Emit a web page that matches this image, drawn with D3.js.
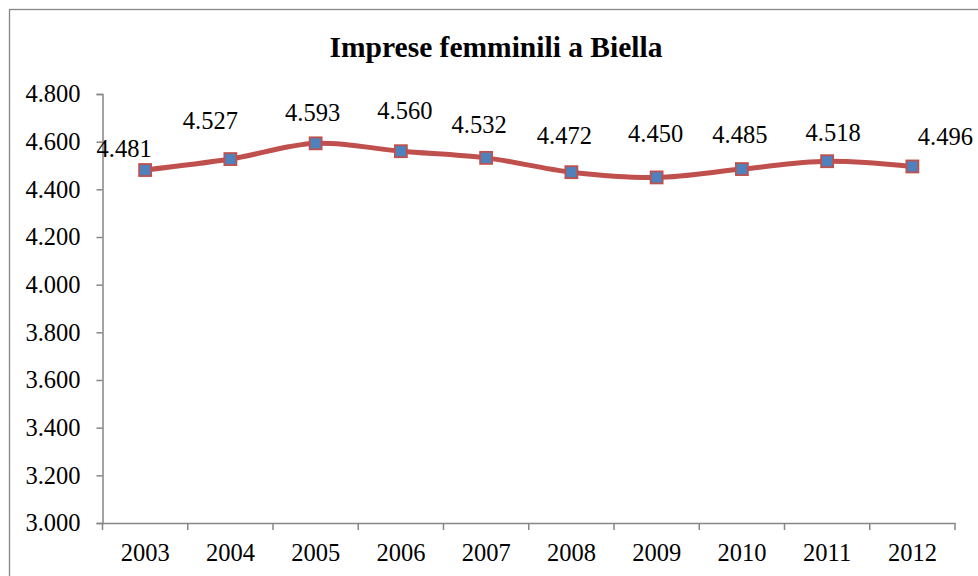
<!DOCTYPE html>
<html>
<head>
<meta charset="utf-8">
<script src="https://cdn.jsdelivr.net/npm/d3@7"></script>
<style>
  html, body { margin: 0; padding: 0; background: #fff; }
  svg { display: block; }
</style>
</head>
<body>
<svg id="chart" width="978" height="576"></svg>
<script>
// ---- data ----
const title = "Imprese femminili a Biella";
const years = ["2003", "2004", "2005", "2006", "2007", "2008", "2009", "2010", "2011", "2012"];
const values = [4481, 4527, 4593, 4560, 4532, 4472, 4450, 4485, 4518, 4496];
const yTicks = [3000, 3200, 3400, 3600, 3800, 4000, 4200, 4400, 4600, 4800];

// ---- layout (label nudges as placed in the original) ----
const labelDx = [-21, -20, -3, 4, -7, -7, -1, -2, 6, 33];
const labelDy = [-22, -39, -31, -41, -33, -37, -44, -35, -29, -30];

const FONT = "'Liberation Serif', 'Times New Roman', serif";
const svg = d3.select("#chart");
const plot = { left: 102.5, right: 955, top: 94, bottom: 523 };
const axisColor = "#868686";
const lineColor = "#C0504D";
const markerFill = "#4F81BD";

const it = d3.formatLocale({ decimal: ",", thousands: ".", grouping: [3], currency: ["€", ""] });
const fmt = it.format(",.0f");

// outer border
svg.append("rect")
  .attr("x", 9.5).attr("y", 9.5)
  .attr("width", 1000).attr("height", 600)
  .attr("fill", "none").attr("stroke", axisColor).attr("stroke-width", 1.3);

// title
svg.append("text")
  .attr("x", 496).attr("y", 57)
  .attr("text-anchor", "middle")
  .style("font-family", FONT)
  .style("font-size", "29.5px").style("font-weight", "bold")
  .style("fill", "#000")
  .text(title);

const x = d3.scaleBand().domain(years).range([plot.left, plot.right]).padding(0);
const y = d3.scaleLinear().domain([3000, 4800]).range([plot.bottom, plot.top]);

// y axis
const yAxis = svg.append("g")
  .attr("transform", `translate(${plot.left},0)`)
  .call(d3.axisLeft(y).tickValues(yTicks).tickFormat(fmt).tickSize(6).tickPadding(16));
yAxis.select(".domain").attr("stroke", axisColor).attr("stroke-width", 1.5);
yAxis.selectAll(".tick line").attr("stroke", axisColor).attr("stroke-width", 1.5);
yAxis.selectAll(".tick text")
  .style("font-family", FONT)
  .style("font-size", "24.5px").style("fill", "#000");

// x axis
const xAxis = svg.append("g")
  .attr("transform", `translate(0,${plot.bottom})`)
  .call(d3.axisBottom(x).tickSize(0).tickPadding(21));
xAxis.select(".domain").attr("stroke", axisColor).attr("stroke-width", 1.5);
xAxis.selectAll(".tick text")
  .style("font-family", FONT)
  .style("font-size", "24.5px").style("fill", "#000");
// tick marks at category boundaries
const bounds = years.map(d => x(d)).concat([x(years[years.length - 1]) + x.bandwidth()]);
svg.append("g").selectAll("line").data(bounds).join("line")
  .attr("x1", d => d).attr("x2", d => d)
  .attr("y1", plot.bottom).attr("y2", plot.bottom + 7)
  .attr("stroke", axisColor).attr("stroke-width", 1.5);

const cx = (d, i) => x(years[i]) + x.bandwidth() / 2;

// line
const line = d3.line()
  .x((d, i) => cx(d, i))
  .y(d => y(d))
  .curve(d3.curveCatmullRom.alpha(0.5));
svg.append("path")
  .datum(values)
  .attr("d", line)
  .attr("fill", "none")
  .attr("stroke", lineColor)
  .attr("stroke-width", 5)
  .attr("stroke-linejoin", "round");

// markers
const ms = 12;
svg.append("g").selectAll("rect").data(values).join("rect")
  .attr("x", (d, i) => cx(d, i) - ms / 2)
  .attr("y", d => y(d) - ms / 2)
  .attr("width", ms).attr("height", ms)
  .attr("fill", markerFill)
  .attr("stroke", lineColor).attr("stroke-width", 1.8);

// data labels
svg.append("g").selectAll("text").data(values).join("text")
  .attr("x", (d, i) => cx(d, i) + labelDx[i])
  .attr("y", (d, i) => y(d) + labelDy[i])
  .attr("text-anchor", "middle")
  .attr("dominant-baseline", "central")
  .style("font-family", FONT)
  .style("font-size", "24.5px").style("fill", "#000")
  .text(d => fmt(d));
</script>
</body>
</html>
